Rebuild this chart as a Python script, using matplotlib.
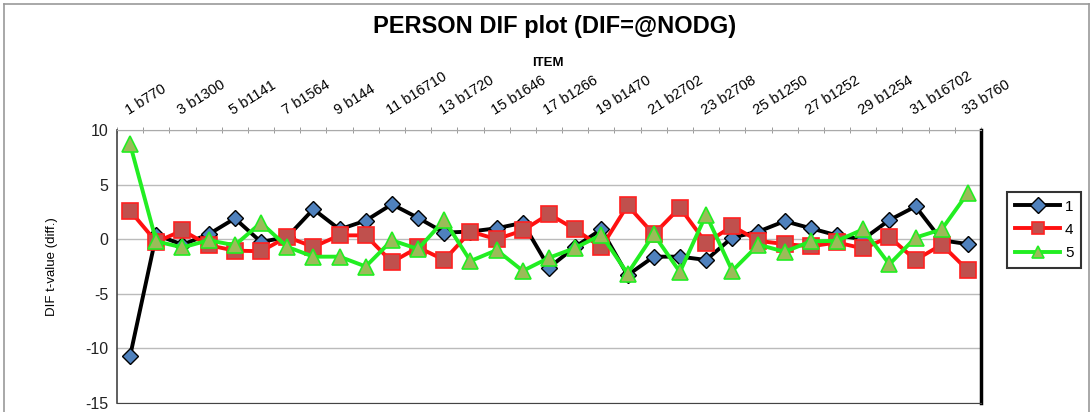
import matplotlib.pyplot as plt
from matplotlib.lines import Line2D

# item labels (only odd items are labelled on the axis)
items = list(range(1, 34))
tick_labels = ["1 b770", "3 b1300", "5 b1141", "7 b1564", "9 b144",
               "11 b16710", "13 b1720", "15 b1646", "17 b1266", "19 b1470",
               "21 b2702", "23 b2708", "25 b1250", "27 b1252", "29 b1254",
               "31 b16702", "33 b760"]

# DIF t-values per class
class1 = [-10.7, 0.4, -0.5, 0.45, 1.9, -0.25, 0.2, 2.75, 0.9, 1.7, 3.2,
          1.95, 0.6, 0.7, 1.0, 1.5, -2.6, -0.7, 0.9, -3.3, -1.6, -1.6,
          -1.9, 0.15, 0.7, 1.65, 1.0, 0.35, 0.0, 1.75, 3.0, -0.1, -0.45]
class4 = [2.6, -0.25, 0.8, -0.55, -1.05, -1.1, 0.2, -0.7, 0.35, 0.35, -2.1,
          -0.75, -1.9, 0.7, 0.0, 0.8, 2.3, 0.9, -0.75, 3.1, 0.45, 2.9,
          -0.35, 1.2, -0.15, -0.45, -0.65, -0.3, -0.85, 0.2, -1.9, -0.5, -2.85]
class5 = [8.7, -0.2, -0.75, -0.1, -0.55, 1.5, -0.7, -1.6, -1.6, -2.5, -0.1,
          -0.9, 1.75, -2.0, -1.0, -2.9, -1.7, -0.8, 0.4, -3.15, 0.45, -3.0,
          2.25, -2.9, -0.5, -1.15, -0.2, -0.15, 0.9, -2.3, 0.15, 0.9, 4.25]

plt.rcParams['font.family'] = ['Liberation Sans', 'DejaVu Sans']

fig = plt.figure(figsize=(10.92, 4.12), dpi=100)
ax = fig.add_axes([117 / 1092, 1 - 403 / 412, 864 / 1092, 273 / 412])

x = [i - 1 for i in items]
ax.plot(x, class1, color='black', lw=2.8, marker='D', ms=8,
        mfc='#4F81BD', mec='black', mew=1, label='1', zorder=3)
ax.plot(x, class4, color='#FF1010', lw=2.8, marker='s', ms=11,
        mfc='#C0504D', mec='#FF2020', mew=1.2, label='4', zorder=4)
ax.plot(x, class5, color='#22EE22', lw=2.8, marker='^', ms=11,
        mfc='#9BBB59', mec='#22EE22', mew=1.2, label='5', zorder=5)

ax.set_xlim(-0.5, 32.5)
ax.set_ylim(-15, 10)
ax.set_yticks([-15, -10, -5, 0, 5, 10])
ax.set_yticklabels(['-15', '-10', '-5', '0', '5', '10'], fontsize=11.5)
ax.yaxis.grid(True, color='#BBBBBB', lw=1)
ax.set_axisbelow(True)
ax.tick_params(axis='y', length=0, pad=6, colors='#222222')

# x axis on top, category boundaries as ticks
ax.xaxis.tick_top()
ax.set_xticks([i - 0.5 for i in range(34)], minor=True)
ax.set_xticks(x[::2])
ax.set_xticklabels(tick_labels, rotation=32, ha='left', va='bottom',
                   rotation_mode='anchor', fontsize=10.5)
ax.tick_params(axis='x', which='major', length=0, pad=9)
ax.tick_params(axis='x', which='minor', length=5, color='#888888',
               direction='inout')

ax.spines['top'].set_color('#AAAAAA')
ax.spines['bottom'].set_color('#444444')
ax.spines['left'].set_color('#444444')
ax.spines['left'].set_linewidth(1.2)
ax.spines['right'].set_color('black')
ax.spines['right'].set_linewidth(2.5)

ax.set_ylabel('DIF t-value (diff.)', fontsize=9.5, labelpad=20)

fig.text(0.508, 0.935, 'PERSON DIF plot (DIF=@NODG)', ha='center',
         va='center', fontsize=17, fontweight='bold')
fig.text(0.502, 0.848, 'ITEM', ha='center', va='center', fontsize=9.5,
         fontweight='bold')

leg = fig.legend(loc='upper left', bbox_to_anchor=(1007 / 1092, 1 - 192 / 412),
                 fontsize=11, frameon=True, fancybox=False, handlelength=3.0,
                 borderpad=0.5, labelspacing=0.6, handletextpad=0.3,
                 borderaxespad=0)
leg.get_frame().set_edgecolor('black')
leg.get_frame().set_linewidth(1.5)
for h in leg.legend_handles:
    h.set_markersize(8)

# outer chart border
for xs, ys in [([4 / 1092, 4 / 1092], [0, 1 - 4 / 412]),
               ([4 / 1092, 1089 / 1092], [1 - 4 / 412, 1 - 4 / 412]),
               ([1089 / 1092, 1089 / 1092], [0, 1 - 4 / 412])]:
    fig.add_artist(Line2D(xs, ys, color='#999999', lw=1.2))

fig.savefig('out.png', dpi=100)
